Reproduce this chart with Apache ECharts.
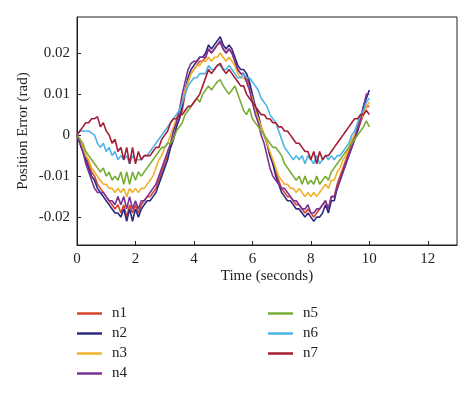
<!DOCTYPE html>
<html>
<head>
<meta charset="utf-8">
<script src="https://cdn.jsdelivr.net/npm/echarts@6/dist/echarts.min.js"></script>
<style>html,body{margin:0;padding:0;background:#fff;}#c{width:474px;height:393px;}</style>
</head>
<body>
<div id="c"></div>
<script>
// time samples (seconds)
const time = [];
for (let i = 0; i <= 100; i++) time.push(+(i / 10).toFixed(1));

const seriesNames = ['n1', 'n2', 'n3', 'n4', 'n5', 'n6', 'n7'];
const xTicks = [0, 2, 4, 6, 8, 10, 12];
const yTicks = [-0.02, -0.01, 0, 0.01, 0.02];
const yTickLabels = ['-0.02', '-0.01', '0', '0.01', '0.02'];

const n1 = [0, -0.002, -0.004, -0.005, -0.007, -0.009, -0.010, -0.012, -0.013, -0.014,
 -0.015, -0.016, -0.017, -0.018, -0.017, -0.019, -0.017, -0.020, -0.017, -0.019,
 -0.017, -0.019, -0.017, -0.016, -0.015, -0.015, -0.014, -0.013, -0.011, -0.009,
 -0.007, -0.005, -0.003, -0.001, 0.002, 0.004, 0.006, 0.010, 0.013, 0.015,
 0.016, 0.017, 0.018, 0.018, 0.019, 0.021, 0.020, 0.021, 0.022, 0.0225,
 0.021, 0.020, 0.021, 0.020, 0.018, 0.016, 0.015, 0.015, 0.014, 0.012,
 0.009, 0.007, 0.004, 0.002, 0.000, -0.002, -0.005, -0.007, -0.009, -0.011,
 -0.013, -0.014, -0.015, -0.015, -0.016, -0.017, -0.017, -0.018, -0.019, -0.018,
 -0.019, -0.020, -0.019, -0.018, -0.017, -0.016, -0.018, -0.015, -0.015, -0.012,
 -0.010, -0.008, -0.006, -0.004, -0.002, 0.000, 0.001, 0.003, 0.005, 0.007,
 0.007];
const n2 = [0, -0.002, -0.004, -0.006, -0.008, -0.010, -0.011, -0.013, -0.014, -0.015,
 -0.016, -0.017, -0.018, -0.019, -0.019, -0.020, -0.018, -0.021, -0.018, -0.021,
 -0.018, -0.020, -0.018, -0.017, -0.016, -0.016, -0.015, -0.014, -0.012, -0.010,
 -0.008, -0.006, -0.003, -0.001, 0.002, 0.004, 0.007, 0.011, 0.014, 0.016,
 0.017, 0.018, 0.019, 0.019, 0.020, 0.022, 0.021, 0.022, 0.023, 0.024,
 0.022, 0.021, 0.022, 0.021, 0.019, 0.017, 0.016, 0.016, 0.015, 0.013,
 0.010, 0.007, 0.005, 0.002, 0.000, -0.002, -0.005, -0.007, -0.010, -0.012,
 -0.014, -0.015, -0.016, -0.016, -0.017, -0.018, -0.018, -0.019, -0.020, -0.019,
 -0.020, -0.021, -0.020, -0.020, -0.019, -0.017, -0.019, -0.016, -0.016, -0.013,
 -0.011, -0.009, -0.007, -0.005, -0.003, -0.001, 0.001, 0.004, 0.007, 0.009,
 0.011];
const n3 = [0, -0.001, -0.003, -0.005, -0.006, -0.008, -0.009, -0.010, -0.011, -0.012,
 -0.012, -0.013, -0.013, -0.014, -0.013, -0.014, -0.013, -0.015, -0.013, -0.014,
 -0.013, -0.014, -0.013, -0.013, -0.012, -0.011, -0.010, -0.008, -0.006, -0.005,
 -0.003, -0.002, 0.000, 0.002, 0.004, 0.006, 0.008, 0.011, 0.013, 0.015,
 0.016, 0.017, 0.017, 0.018, 0.018, 0.019, 0.018, 0.019, 0.019, 0.020,
 0.019, 0.018, 0.019, 0.018, 0.017, 0.015, 0.014, 0.014, 0.013, 0.011,
 0.009, 0.006, 0.004, 0.002, 0.000, -0.002, -0.004, -0.006, -0.008, -0.010,
 -0.011, -0.012, -0.012, -0.013, -0.013, -0.014, -0.013, -0.014, -0.015, -0.014,
 -0.015, -0.014, -0.015, -0.014, -0.013, -0.012, -0.013, -0.011, -0.011, -0.009,
 -0.008, -0.006, -0.005, -0.003, -0.001, 0.000, 0.002, 0.004, 0.005, 0.007,
 0.008];
const n4 = [0, -0.002, -0.004, -0.007, -0.009, -0.011, -0.013, -0.014, -0.014, -0.014,
 -0.015, -0.016, -0.016, -0.017, -0.015, -0.017, -0.015, -0.018, -0.015, -0.018,
 -0.016, -0.018, -0.016, -0.016, -0.015, -0.014, -0.013, -0.012, -0.010, -0.008,
 -0.006, -0.004, -0.002, 0.001, 0.003, 0.006, 0.010, 0.013, 0.016, 0.0175,
 0.018, 0.018, 0.019, 0.019, 0.019, 0.021, 0.020, 0.021, 0.022, 0.023,
 0.021, 0.020, 0.021, 0.020, 0.018, 0.016, 0.015, 0.015, 0.013, 0.011,
 0.008, 0.005, 0.003, 0.000, -0.002, -0.005, -0.008, -0.010, -0.011, -0.012,
 -0.013, -0.013, -0.014, -0.015, -0.016, -0.016, -0.017, -0.018, -0.018, -0.017,
 -0.019, -0.019, -0.018, -0.018, -0.017, -0.016, -0.018, -0.015, -0.015, -0.013,
 -0.011, -0.009, -0.007, -0.005, -0.003, -0.001, 0.002, 0.004, 0.007, 0.010,
 0.010];
const n5 = [0, -0.001, -0.002, -0.004, -0.005, -0.006, -0.007, -0.008, -0.009, -0.008,
 -0.010, -0.009, -0.011, -0.010, -0.011, -0.009, -0.012, -0.009, -0.012, -0.009,
 -0.011, -0.009, -0.010, -0.009, -0.008, -0.007, -0.006, -0.005, -0.004, -0.003,
 -0.003, -0.002, -0.002, -0.001, 0.001, 0.002, 0.003, 0.005, 0.006, 0.007,
 0.008, 0.009, 0.008, 0.010, 0.011, 0.012, 0.011, 0.012, 0.013, 0.0135,
 0.012, 0.011, 0.010, 0.011, 0.012, 0.010, 0.008, 0.006, 0.005, 0.0065,
 0.004, 0.003, 0.002, 0.001, 0.000, -0.001, -0.002, -0.003, -0.003, -0.004,
 -0.005, -0.007, -0.008, -0.009, -0.010, -0.011, -0.010, -0.012, -0.010, -0.012,
 -0.011, -0.012, -0.010, -0.012, -0.011, -0.010, -0.011, -0.009, -0.008, -0.007,
 -0.006, -0.005, -0.004, -0.003, -0.002, -0.001, 0.000, 0.001, 0.002, 0.0035,
 0.002];
const n6 = [0, 0.001, 0.001, 0.001, 0.001, 0.0005, 0.000, -0.002, -0.003, -0.002,
 -0.004, -0.003, -0.005, -0.004, -0.006, -0.005, -0.006, -0.005, -0.007, -0.005,
 -0.006, -0.006, -0.006, -0.005, -0.005, -0.004, -0.003, -0.002, -0.001, 0.000,
 0.001, 0.002, 0.003, 0.004, 0.005, 0.006, 0.008, 0.010, 0.012, 0.013,
 0.014, 0.014, 0.015, 0.015, 0.015, 0.017, 0.016, 0.016, 0.017, 0.017,
 0.016, 0.016, 0.017, 0.016, 0.015, 0.014, 0.014, 0.015, 0.014, 0.014,
 0.013, 0.012, 0.011, 0.009, 0.008, 0.007, 0.005, 0.004, 0.003, 0.001,
 -0.001, -0.003, -0.004, -0.005, -0.006, -0.005, -0.006, -0.005, -0.007, -0.005,
 -0.006, -0.007, -0.005, -0.007, -0.006, -0.005, -0.006, -0.005, -0.006, -0.005,
 -0.005, -0.004, -0.003, -0.002, 0.000, 0.001, 0.003, 0.005, 0.006, 0.008,
 0.009];
const n7 = [0, 0.001, 0.002, 0.003, 0.003, 0.004, 0.004, 0.0045, 0.002, 0.003,
 0.001, 0.000, -0.002, -0.001, -0.004, -0.003, -0.006, -0.003, -0.007, -0.003,
 -0.007, -0.004, -0.006, -0.005, -0.005, -0.005, -0.004, -0.003, -0.003, -0.001,
 0.000, 0.001, 0.003, 0.004, 0.004, 0.005, 0.005, 0.006, 0.007, 0.007,
 0.008, 0.009, 0.010, 0.012, 0.014, 0.016, 0.015, 0.016, 0.017, 0.0175,
 0.016, 0.015, 0.016, 0.015, 0.014, 0.013, 0.012, 0.012, 0.010, 0.009,
 0.008, 0.007, 0.006, 0.005, 0.005, 0.004, 0.004, 0.003, 0.003, 0.002,
 0.002, 0.001, 0.001, 0.000, -0.001, -0.002, -0.002, -0.003, -0.004, -0.004,
 -0.006, -0.004, -0.007, -0.004, -0.006, -0.005, -0.005, -0.004, -0.003, -0.002,
 -0.001, 0.000, 0.001, 0.002, 0.003, 0.004, 0.004, 0.005, 0.005, 0.006,
 0.005];

const values = [n1, n2, n3, n4, n5, n6, n7];
const colors = ['#d8452e', '#2b2a80', '#f0b12a', '#7b3294', '#78ad35', '#4cb4e6', '#a51d33'];
const FONT = 'Liberation Serif';

const legendCommon = {
  orient: 'vertical', top: 306, padding: 0, itemWidth: 25, itemHeight: 2.5, itemGap: 5, icon: 'rect',
  textStyle: {fontFamily: FONT, fontSize: 15, color: '#222', padding: [0, 0, 0, 5], lineHeight: 15}
};

const chart = echarts.init(document.getElementById('c'), null, {renderer: 'canvas'});
chart.setOption({
  animation: false,
  color: colors,
  textStyle: {fontFamily: FONT},
  grid: {left: 77, right: 17, top: 17, bottom: 148, show: true, borderColor: '#222', borderWidth: 1},
  legend: [
    Object.assign({data: seriesNames.slice(0, 4), left: 77}, legendCommon),
    Object.assign({data: seriesNames.slice(4), left: 268}, legendCommon)
  ],
  xAxis: {
    type: 'value', min: 0, max: 13,
    name: 'Time (seconds)', nameLocation: 'middle', nameGap: 24, nameMoveOverlap: false,
    nameTextStyle: {fontFamily: FONT, fontSize: 15, color: '#222'},
    axisLine: {show: true, onZero: false, lineStyle: {color: '#222', width: 1}},
    axisTick: {show: true, inside: true, length: 4, customValues: xTicks, lineStyle: {color: '#222'}},
    axisLabel: {customValues: xTicks, fontFamily: FONT, fontSize: 15, color: '#222', margin: 7},
    splitLine: {show: false}
  },
  yAxis: {
    type: 'value', min: -0.0268, max: 0.0288,
    name: 'Position Error (rad)', nameLocation: 'middle', nameGap: 46, nameMoveOverlap: false,
    nameTextStyle: {fontFamily: FONT, fontSize: 15, color: '#222'},
    axisLine: {show: true, onZero: false, lineStyle: {color: '#222', width: 1}},
    axisTick: {show: true, inside: true, length: 4, customValues: yTicks, lineStyle: {color: '#222'}},
    axisLabel: {customValues: yTicks, fontFamily: FONT, fontSize: 15, color: '#222', margin: 7,
      formatter: function (v) { const i = yTicks.findIndex(t => Math.abs(t - v) < 1e-9); return i >= 0 ? yTickLabels[i] : ''; }},
    splitLine: {show: false}
  },
  series: seriesNames.map((name, k) => ({
    name: name, type: 'line', symbol: 'none', smooth: false,
    lineStyle: {width: 1.6, color: colors[k]},
    itemStyle: {color: colors[k]},
    data: time.map((t, i) => [t, values[k][i]])
  }))
});
</script>
</body>
</html>
